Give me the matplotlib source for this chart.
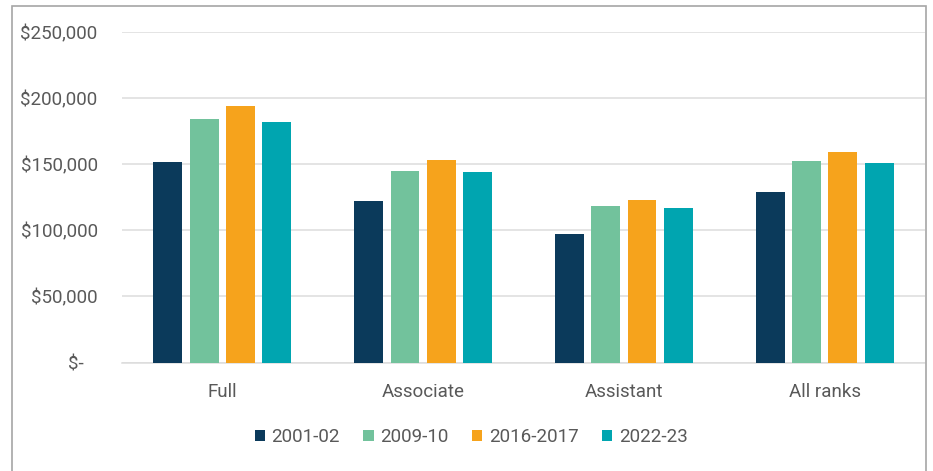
import matplotlib

matplotlib.use("Agg")
import matplotlib.pyplot as plt  # noqa: E402
import numpy as np  # noqa: E402
from matplotlib.patches import Rectangle  # noqa: E402

# values
ranks = ["Full", "Associate", "Assistant", "All ranks"]
years = ["2001-02", "2009-10", "2016-2017", "2022-23"]
sal_2001 = [151700, 122300, 97300, 128900]
sal_2009 = [184200, 144500, 118300, 152100]
sal_2016 = [193800, 153200, 123100, 159500]
sal_2022 = [182200, 144300, 116800, 150600]
yticks = [0, 50000, 100000, 150000, 200000, 250000]

colors = ["#0b3a5b", "#72c29c", "#f6a31c", "#00a5b0"]
TEXT = "#595959"
GRID = "#dcdcdc"

plt.rcParams.update({"font.family": ["Roboto", "DejaVu Sans"], "font.size": 13.5})

W, H = 933, 471
fig = plt.figure(figsize=(W / 100, H / 100), dpi=100)
fig.patch.set_facecolor("white")
ax = fig.add_axes([122 / W, (H - 362.5) / H, (925 - 122) / W, 330.5 / H])

x = np.arange(len(ranks))
slot, bw = 0.181, 0.144
for i, (vals, lab) in enumerate(zip([sal_2001, sal_2009, sal_2016, sal_2022], years)):
    ax.bar(x + (i - 1.5) * slot, vals, width=bw, color=colors[i], label=lab, zorder=3)

ax.set_xlim(-0.5, len(ranks) - 0.5)
ax.set_ylim(0, 250000)
ax.set_yticks(yticks)
ax.yaxis.set_major_formatter(
    plt.FuncFormatter(lambda v, _: "$-   " if v == 0 else f"${v:,.0f}"))
ax.set_xticks(x)
ax.set_xticklabels(ranks)
ax.tick_params(axis="both", length=0, colors=TEXT, labelsize=13.5)
ax.tick_params(axis="y", pad=17.5)
ax.tick_params(axis="x", pad=14.5)
ax.grid(True, axis="y", color=GRID, linewidth=1.1, zorder=0)
for side in ("top", "right", "left"):
    ax.spines[side].set_visible(False)
ax.spines["bottom"].set_color(GRID)
ax.spines["bottom"].set_linewidth(1.1)

fig.legend(loc="center", bbox_to_anchor=(0.505, 1 - 437 / H), ncol=4, frameon=False,
           handlelength=0.55, handleheight=0.55, handletextpad=0.35,
           columnspacing=1.25, labelcolor=TEXT, fontsize=13.5)

# outer frame of the pasted image (left, top, right edges)
fig.patches.append(Rectangle((11.5 / W, -0.1), (926 - 11.5) / W, 1.1 - 6 / H,
                             transform=fig.transFigure, fill=False,
                             edgecolor="#a6a6a6", linewidth=1.2))

fig.savefig("out.png", dpi=100)
